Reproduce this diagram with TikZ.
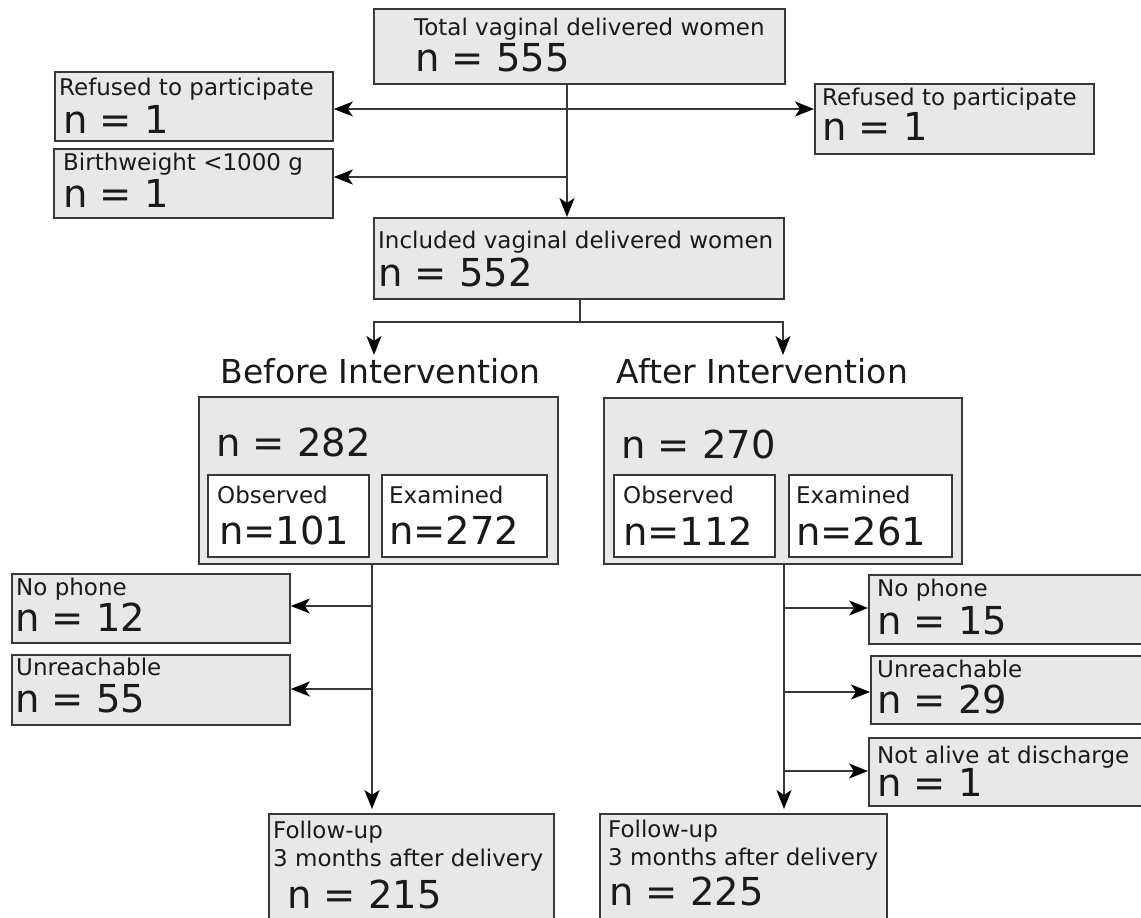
\documentclass[tikz,border=0pt]{standalone}
\usepackage{fontspec}
\setmainfont{DejaVu Sans}
\usetikzlibrary{arrows.meta}
\newcommand{\lbfont}{\fontsize{23}{27}\selectfont}
\newcommand{\nfont}{\fontsize{38.5}{45}\selectfont}
\newcommand{\hdfont}{\fontsize{33}{39}\selectfont}
\definecolor{boxgray}{HTML}{E8E8E8}
\definecolor{edgegray}{HTML}{383838}
\definecolor{inkgray}{HTML}{1A1A1A}
\tikzset{fb/.style={draw=edgegray,fill=boxgray,line width=1.8pt,anchor=north west,inner sep=0pt}}
\tikzset{sb/.style={fb,fill=white}}
\tikzset{lb/.style={anchor=base west,inner sep=0pt,text=inkgray,font=\lbfont}}
\tikzset{nb/.style={lb,font=\nfont}}
\tikzset{hd/.style={anchor=base,inner sep=0pt,text=inkgray,font=\hdfont}}
\tikzset{ln/.style={draw=edgegray,line width=1.8pt}}
\tikzset{>={Stealth[length=19pt,width=15pt,inset=5pt,color=black]}}

\begin{document}
\begin{tikzpicture}[x=1pt,y=-1pt]
\useasboundingbox (0,0) rectangle (1141,918);

\node[fb,minimum width=411pt,minimum height=75pt] (total) at (373,8) {};
\node[lb] (total-a) at (414,35) {Total vaginal delivered women};
\node[nb] (total-n) at (415,71) {n = 555};

\node[fb,minimum width=278pt,minimum height=69pt] (ref1) at (54,71) {};
\node[lb] (ref1-a) at (59,95) {Refused to participate};
\node[nb] (ref1-n) at (63,133) {n = 1};

\node[fb,minimum width=279pt,minimum height=69pt] (bw) at (53,148) {};
\node[lb] (bw-a) at (63,170) {Birthweight <1000 g};
\node[nb] (bw-n) at (63,207) {n = 1};

\node[fb,minimum width=279pt,minimum height=70pt] (ref2) at (814,83) {};
\node[lb] (ref2-a) at (822,105) {Refused to participate};
\node[nb] (ref2-n) at (822,140) {n = 1};

\node[fb,minimum width=410pt,minimum height=81pt] (incl) at (373,217) {};
\node[lb] (incl-a) at (378,248) {Included vaginal delivered women};
\node[nb] (incl-n) at (378,286) {n = 552};

\node[hd] (bt) at (380.5,383) {Before Intervention};
\node[hd] (at) at (762.5,383) {After Intervention};

\node[fb,minimum width=359pt,minimum height=167pt] (bbox) at (198,396) {};
\node[nb] (bbox-n) at (216,456) {n = 282};
\node[sb,minimum width=161pt,minimum height=82pt] (bobs) at (207,474) {};
\node[lb] (bobs-a) at (217,503) {Observed};
\node[nb] (bobs-n) at (219,544) {n=101};
\node[sb,minimum width=165pt,minimum height=82pt] (bexa) at (381,474) {};
\node[lb] (bexa-a) at (389,503) {Examined};
\node[nb] (bexa-n) at (389,544) {n=272};

\node[fb,minimum width=358pt,minimum height=166pt] (abox) at (603,397) {};
\node[nb] (abox-n) at (621,458) {n = 270};
\node[sb,minimum width=161pt,minimum height=82pt] (aobs) at (613,474) {};
\node[lb] (aobs-a) at (623,503) {Observed};
\node[nb] (aobs-n) at (623,545) {n=112};
\node[sb,minimum width=163pt,minimum height=82pt] (aexa) at (788,474) {};
\node[lb] (aexa-a) at (796,503) {Examined};
\node[nb] (aexa-n) at (796,545) {n=261};

\node[fb,minimum width=278pt,minimum height=69pt] (np1) at (11,573) {};
\node[lb] (np1-a) at (16,595) {No phone};
\node[nb] (np1-n) at (15,631) {n = 12};
\node[fb,minimum width=278pt,minimum height=70pt] (ur1) at (11,654) {};
\node[lb] (ur1-a) at (16,675) {Unreachable};
\node[nb] (ur1-n) at (15,712) {n = 55};

\node[fb,minimum width=282pt,minimum height=69pt] (np2) at (868,574) {};
\node[lb] (np2-a) at (877,596) {No phone};
\node[nb] (np2-n) at (877,634) {n = 15};
\node[fb,minimum width=280pt,minimum height=68pt] (ur2) at (870,655) {};
\node[lb] (ur2-a) at (877,677) {Unreachable};
\node[nb] (ur2-n) at (877,713) {n = 29};
\node[fb,minimum width=282pt,minimum height=68pt] (na) at (868,737) {};
\node[lb] (na-a) at (877,763) {Not alive at discharge};
\node[nb] (na-n) at (877,796) {n = 1};

\node[fb,minimum width=285pt,minimum height=112pt] (bfu) at (268,813) {};
\node[lb] (bfu-a) at (273,838) {Follow-up};
\node[lb] (bfu-b) at (273,866) {3 months after delivery};
\node[nb] (bfu-n) at (287,908) {n = 215};
\node[fb,minimum width=287pt,minimum height=112pt] (afu) at (599,813) {};
\node[lb] (afu-a) at (608,837) {Follow-up};
\node[lb] (afu-b) at (608,865) {3 months after delivery};
\node[nb] (afu-n) at (609,905) {n = 225};

\coordinate (c1) at (567,109);
\coordinate (c2) at (567,177);
\draw[ln,->] (total.south -| c1) -- (incl.north -| c1);
\draw[ln,<->] (ref1.east |- c1) -- (ref2.west |- c1);
\draw[ln,->] (c2) -- (bw.east |- c2);

\coordinate (fork) at (580,322);
\coordinate (bfork) at (374,355);
\coordinate (afork) at (783,355);
\draw[ln] (incl.south -| fork) -- (fork);
\draw[ln,->] (fork) -| (bfork);
\draw[ln,->] (fork) -| (afork);

\coordinate (b1) at (372,606);
\coordinate (b2) at (372,689);
\draw[ln,->,shorten >=4pt] (bbox.south -| b1) -- (bfu.north -| b1);
\draw[ln,->] (b1) -- (np1.east |- b1);
\draw[ln,->] (b2) -- (ur1.east |- b2);

\coordinate (a1) at (784,608);
\coordinate (a2) at (784,692);
\coordinate (a3) at (784,771);
\draw[ln,->,shorten >=4pt] (abox.south -| a1) -- (afu.north -| a1);
\draw[ln,->] (a1) -- (np2.west |- a1);
\draw[ln,->] (a2) -- (ur2.west |- a2);
\draw[ln,->] (a3) -- (na.west |- a3);
\end{tikzpicture}
\end{document}
